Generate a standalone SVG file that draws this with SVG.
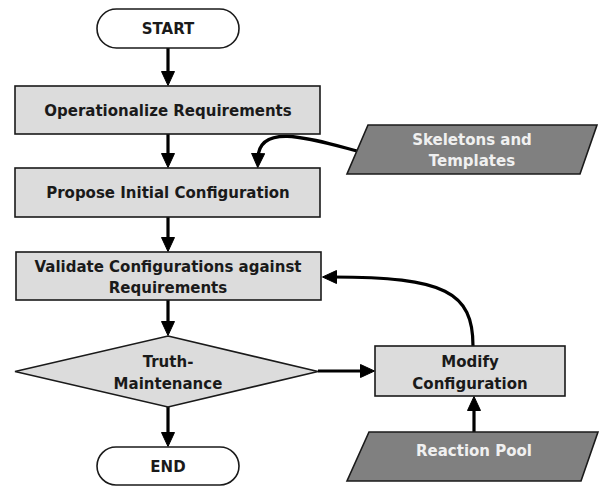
<svg xmlns="http://www.w3.org/2000/svg" width="599" height="486" viewBox="0 0 599 486">
  <style>
    .box { fill: #dcdcdc; stroke: #1a1a1a; stroke-width: 1.6; }
    .term { fill: #ffffff; stroke: #1a1a1a; stroke-width: 1.6; }
    .data { fill: #808080; stroke: #1a1a1a; stroke-width: 1.6; }
    .lbl { font-family: "DejaVu Sans", Verdana, sans-serif; font-weight: bold; font-size: 15px; fill: #1a1a1a; text-anchor: middle; }
    .lbl-light { font-family: "DejaVu Sans", Verdana, sans-serif; font-weight: bold; font-size: 15px; fill: #f0f0f0; text-anchor: middle; }
    .edge { fill: none; stroke: #000000; stroke-width: 3.2; }
  </style>
  <defs>
    <!-- filled triangular arrowhead; tip sits 10px beyond the path end -->
    <marker id="head" viewBox="0 0 15 14" refX="5" refY="7" markerWidth="15" markerHeight="14" markerUnits="userSpaceOnUse" orient="auto">
      <path d="M0.5,0.5 L14.5,7 L0.5,13.5 z" fill="#000000" stroke="#000000" stroke-width="1" stroke-linejoin="round"/>
    </marker>
  </defs>

  <g id="edges">
    <path class="edge" d="M168,48 L168,76" marker-end="url(#head)"/>
    <path class="edge" d="M168,134 L168,158" marker-end="url(#head)"/>
    <path class="edge" d="M168,217 L168,242" marker-end="url(#head)"/>
    <path class="edge" d="M168,300 L168,326" marker-end="url(#head)"/>
    <path class="edge" d="M168,407 L168,437" marker-end="url(#head)"/>
    <path class="edge" d="M318,371 L365,371" marker-end="url(#head)"/>
    <path class="edge" d="M474,432 L474,406" marker-end="url(#head)"/>
    <path class="edge" d="M357,151 C312,139 259,122 258,158" marker-end="url(#head)"/>
    <path class="edge" d="M473,346 C473,292 445,277 332,277" marker-end="url(#head)"/>
  </g>

  <g id="start">
    <rect class="term" x="97" y="9" width="142" height="39" rx="19.5"/>
    <text class="lbl" x="168" y="34">START</text>
  </g>

  <g id="operationalize">
    <rect class="box" x="15" y="86" width="305" height="48"/>
    <text class="lbl" x="168" y="115.5">Operationalize Requirements</text>
  </g>

  <g id="skeletons">
    <polygon class="data" points="368,125 597,125 580,174 347,174"/>
    <text class="lbl-light" x="472" y="145">Skeletons and</text>
    <text class="lbl-light" x="472" y="166">Templates</text>
  </g>

  <g id="propose">
    <rect class="box" x="15" y="168" width="305" height="49"/>
    <text class="lbl" x="168" y="198">Propose Initial Configuration</text>
  </g>

  <g id="validate">
    <rect class="box" x="16" y="252" width="305" height="48"/>
    <text class="lbl" x="168" y="272">Validate Configurations against</text>
    <text class="lbl" x="168" y="293">Requirements</text>
  </g>

  <g id="truth">
    <polygon class="box" points="168,336 318,371.5 168,407 15,371.5"/>
    <text class="lbl" x="168" y="367">Truth-</text>
    <text class="lbl" x="168" y="389">Maintenance</text>
  </g>

  <g id="modify">
    <rect class="box" x="375" y="346" width="190" height="50"/>
    <text class="lbl" x="470" y="367">Modify</text>
    <text class="lbl" x="470" y="389">Configuration</text>
  </g>

  <g id="reaction">
    <polygon class="data" points="369,432 598,432 581,481 347,481"/>
    <text class="lbl-light" x="474" y="456">Reaction Pool</text>
  </g>

  <g id="end">
    <rect class="term" x="97" y="447" width="142" height="38" rx="19"/>
    <text class="lbl" x="168" y="472">END</text>
  </g>
</svg>
